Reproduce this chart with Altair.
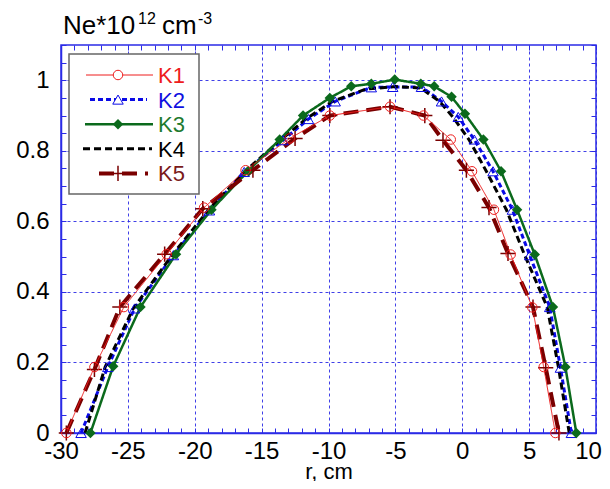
import altair as alt
import pandas as pd

# ---- data ----
K1_r = [-29.6, -27.5, -25.3, -22.1, -19.3, -16.2, -12.9, -9.9, -5.4, -2.9, -0.86, 0.73, 2.37, 3.62, 5.24, 6.09, 6.96]
K1_n = [0.0, 0.187, 0.357, 0.507, 0.639, 0.745, 0.835, 0.90, 0.925, 0.90, 0.832, 0.742, 0.633, 0.506, 0.356, 0.187, 0.0]

K2_r = [-28.5, -26.5, -24.5, -21.6, -18.9, -16.3, -13.4, -11.5, -9.5, -6.8, -5.2, -3.05, -1.55, -0.3, 0.9, 2.3, 3.75, 5.04, 6.54, 7.34, 8.16]
K2_n = [0.0, 0.187, 0.353, 0.504, 0.631, 0.74, 0.83, 0.89, 0.94, 0.98, 0.981, 0.981, 0.94, 0.896, 0.832, 0.742, 0.633, 0.504, 0.357, 0.185, 0.0]

K3_r = [-27.8, -26.1, -24.06, -21.4, -18.75, -16.0, -13.65, -11.9, -9.9, -8.3, -6.8, -5.05, -3.1, -2.1, -0.8, 0.2, 1.58, 2.9, 4.1, 5.42, 6.78, 7.71, 8.53]
K3_n = [0.0, 0.189, 0.357, 0.507, 0.633, 0.743, 0.832, 0.90, 0.95, 0.983, 0.99, 1.002, 0.99, 0.983, 0.953, 0.905, 0.832, 0.742, 0.633, 0.506, 0.357, 0.187, 0.0]

K4_r = [-28.2, -26.7, -24.6, -21.7, -19.0, -16.3, -13.6, -11.7, -9.7, -7.2, -5.0, -3.1, -1.7, -0.7, 0.5, 1.8, 3.3, 4.67, 6.35, 7.2, 8.0]
K4_n = [0.0, 0.187, 0.353, 0.504, 0.631, 0.74, 0.83, 0.89, 0.94, 0.975, 0.982, 0.978, 0.94, 0.896, 0.832, 0.742, 0.633, 0.504, 0.357, 0.185, 0.0]

K5_r = [-29.6, -27.5, -25.6, -22.25, -19.4, -15.65, -12.5, -9.9, -5.4, -2.8, -1.44, 0.31, 2.0, 3.42, 5.29, 6.24, 7.23]
K5_n = [0.0, 0.18, 0.357, 0.507, 0.636, 0.745, 0.835, 0.90, 0.925, 0.90, 0.83, 0.745, 0.639, 0.509, 0.357, 0.185, 0.0]

names = ["K1", "K2", "K3", "K4", "K5"]
series_r = [K1_r, K2_r, K3_r, K4_r, K5_r]
series_n = [K1_n, K2_n, K3_n, K4_n, K5_n]

x_ticks = list(range(-30, 11))
y_ticks = [round(i * 0.05, 2) for i in range(23)]

# ---- styles ----
FONT = "Liberation Sans"
BLUE = "#2b2be6"
PLUS = "M-1,0H1M0,-1V1"
style = {
    "K1": dict(color="#ee1d1d", width=1.0, dash=[1, 0], shape="circle", filled=False, size=90, mw=1.0, text="#ee1d1d"),
    "K2": dict(color="#0a0ae6", width=3.0, dash=[5, 3], shape="triangle-up", filled=False, size=110, mw=1.0, text="#1010e0"),
    "K3": dict(color="#0b6a1c", width=2.5, dash=[1, 0], shape="diamond", filled=True, size=110, mw=1.0, text="#1e7a2e"),
    "K4": dict(color="#000000", width=3.0, dash=[7, 4], shape=None, filled=False, size=0, mw=1.0, text="#000000"),
    "K5": dict(color="#7a0000", width=4.0, dash=[15, 8], shape=PLUS, filled=False, size=230, mw=1.5, text="#7a1a1a"),
}

rows = []
for nm, rs, ns in zip(names, series_r, series_n):
    for i, (r, n) in enumerate(zip(rs, ns)):
        rows.append({"series": nm, "i": i, "r": r, "ne": n})
df = pd.DataFrame(rows)

xs = alt.Scale(domain=[-30, 10], nice=False, zero=False)
ys = alt.Scale(domain=[0, 1.1], nice=False, zero=False)

grid_op_x = {"condition": {"test": "datum.value % 5 != 0", "value": 0}, "value": 0.9}
grid_op_y = {"condition": {"test": "round(datum.value * 20) % 4 != 0", "value": 0}, "value": 0.9}

x_axis = alt.Axis(
    values=x_ticks, orient="bottom", title="r, cm", titleFont=FONT, titleFontSize=22,
    titleFontWeight="normal", titleColor="black", titleBaseline="alphabetic", titleY=45,
    labelExpr="datum.value % 5 == 0 ? '' + datum.value : ''",
    labelFont=FONT, labelFontSize=24, labelColor="black", labelPadding=11, labelFlush=False,
    labelOverlap=False,
    labelOffset={"condition": {"test": "datum.value == 10", "value": -8}, "value": 0},
    tickSize={"expr": "-5"}, tickColor=BLUE, tickWidth=1,
    domainColor=BLUE, domainWidth=1.5,
    grid=True, gridColor=BLUE, gridDash=[3, 3], gridWidth=1, gridOpacity=grid_op_x,
)
y_axis = alt.Axis(
    values=y_ticks, orient="left", title=None,
    labelExpr="round(datum.value * 20) % 4 == 0 ? format(datum.value, '~g') : ''",
    labelFont=FONT, labelFontSize=24, labelColor="black", labelPadding=17, labelFlush=False,
    labelOverlap=False,
    tickSize={"expr": "-5"}, tickColor=BLUE, tickWidth=1,
    domainColor=BLUE, domainWidth=1.5,
    grid=True, gridColor=BLUE, gridDash=[3, 3], gridWidth=1, gridOpacity=grid_op_y,
)
x_axis_top = alt.Axis(values=x_ticks, orient="top", title=None, labels=False, domain=False,
                      tickSize={"expr": "-5"}, tickColor=BLUE, tickWidth=1, grid=False)
y_axis_right = alt.Axis(values=y_ticks, orient="right", title=None, labels=False, domain=False,
                        tickSize={"expr": "-5"}, tickColor=BLUE, tickWidth=1, grid=False)

base = alt.Chart(df)

# frame layer carrying the top/right axes (invisible)
frame = base.mark_point(opacity=0).encode(
    x=alt.X("r:Q", scale=xs, axis=x_axis_top),
    y=alt.Y("ne:Q", scale=ys, axis=y_axis_right),
)

layers = []
first = True
for nm in ["K2", "K4", "K3", "K5", "K1"]:
    s = style[nm]
    enc = dict(
        x=alt.X("r:Q", scale=xs, axis=x_axis if first else None),
        y=alt.Y("ne:Q", scale=ys, axis=y_axis if first else None),
        order="i:Q",
    )
    first = False
    layers.append(
        base.transform_filter(alt.datum.series == nm)
        .mark_line(color=s["color"], strokeWidth=s["width"], strokeDash=s["dash"], clip=True)
        .encode(**enc)
    )
for nm in ["K2", "K3", "K5", "K1"]:
    s = style[nm]
    layers.append(
        base.transform_filter(alt.datum.series == nm)
        .mark_point(shape=s["shape"], filled=s["filled"], size=s["size"], color=s["color"],
                    strokeWidth=s["mw"], opacity=1, fill=s["color"] if s["filled"] else "transparent")
        .encode(x=alt.X("r:Q", scale=xs, axis=None), y=alt.Y("ne:Q", scale=ys, axis=None))
    )

one = alt.Data(values=[{}])

# y-axis title with superscripts (placed above the plot)
title_parts = [
    ("Ne*10", 2, -11, 26),
    ("12", 77, -21, 16),
    ("cm", 101, -11, 26),
    ("-3", 137, -21, 16),
]
for txt, tx, ty, fs in title_parts:
    layers.append(
        alt.Chart(one).mark_text(text=txt, font=FONT, fontSize=fs, align="left", baseline="alphabetic",
                                 color="black")
        .encode(x=alt.value(tx), y=alt.value(ty))
    )

# legend box
layers.append(
    alt.Chart(one).mark_rect(fill="white", stroke="#666666", strokeWidth=1.5)
    .encode(x=alt.value(8), x2=alt.value(138), y=alt.value(9), y2=alt.value(149))
)
leg_x = {"K1": (25, 92), "K2": (29, 86), "K3": (24, 92), "K4": (22, 91), "K5": (38, 87)}
for k, nm in enumerate(names):
    s = style[nm]
    yy = 30 + k * 24.6
    x0, x1 = leg_x[nm]
    layers.append(
        alt.Chart(one).mark_rule(color=s["color"], strokeWidth=s["width"], strokeDash=s["dash"])
        .encode(x=alt.value(x0), x2=alt.value(x1), y=alt.value(yy))
    )
    if s["shape"]:
        layers.append(
            alt.Chart(one).mark_point(shape=s["shape"], filled=s["filled"], size=s["size"], color=s["color"],
                                      strokeWidth=s["mw"], opacity=1,
                                      fill=s["color"] if s["filled"] else "white")
            .encode(x=alt.value(57), y=alt.value(yy))
        )
    layers.append(
        alt.Chart(one).mark_text(text=nm, font=FONT, fontSize=22, align="left", baseline="middle",
                                 color=s["text"])
        .encode(x=alt.value(97), y=alt.value(yy + 1))
    )

chart = (
    alt.layer(frame, *layers)
    .resolve_axis(x="independent", y="independent")
    .properties(width=535, height=388, autosize=alt.AutoSizeParams(type="none"),
                padding={"left": 53, "top": 37, "right": 6, "bottom": 48},
                background="white")
    .configure_view(stroke=BLUE, strokeWidth=1.5)
)

chart.save("out.html", embed_options={"renderer": "svg", "actions": False})
